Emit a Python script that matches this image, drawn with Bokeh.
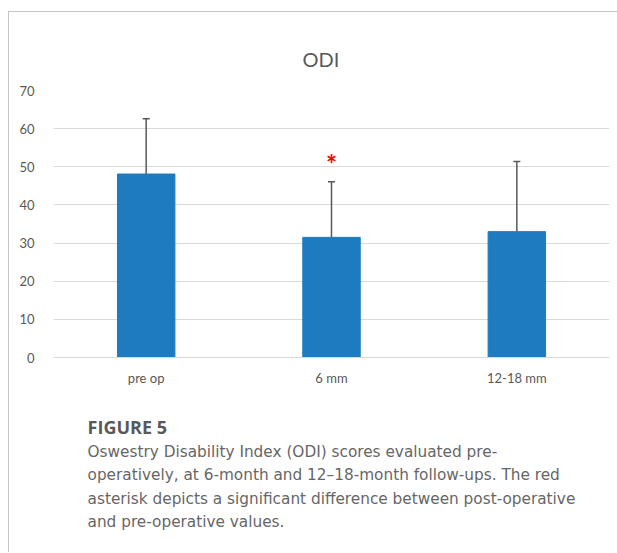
from bokeh.plotting import figure
from bokeh.layouts import column
from bokeh.models import ColumnDataSource, Whisker, TeeHead, FactorRange, Range1d
from bokeh.core.properties import value
from bokeh.embed import file_html
from bokeh.resources import INLINE

# ---- data ----
categories = ["pre op", "6 mm", "12-18 mm"]
means = [48.1, 31.5, 33.0]
sds = [14.5, 14.6, 18.4]
significant = [False, True, False]
y_ticks = [0, 10, 20, 30, 40, 50, 60, 70]
title_text = "ODI"
caption_head = "FIGURE 5"
caption_lines = [
    "Oswestry Disability Index (ODI) scores evaluated pre-",
    "operatively, at 6-month and 12\u201318-month follow-ups. The red",
    "asterisk depicts a significant difference between post-operative",
    "and pre-operative values.",
]

upper = [m + s for m, s in zip(means, sds)]
lower = [m - s for m, s in zip(means, sds)]
src = ColumnDataSource(dict(cat=categories, mean=means, upper=upper, lower=lower))

star_cats = [c for c, s in zip(categories, significant) if s]
star_y = [u + 4.5 for u, s in zip(upper, significant) if s]
star_src = ColumnDataSource(dict(cat=star_cats, y=star_y, t=["*"] * len(star_cats)))

CHART_FONT = "Lato"
CAP_FONT = "DejaVu Sans"
HEAD_FONT = "Open Sans"
BORDER = "1px solid #c4c4c4"

FRAME_W, FRAME_H = 555, 266
Y_MAX = 70

p = figure(
    x_range=FactorRange(*categories, range_padding=0),
    y_range=(0, Y_MAX),
    frame_width=FRAME_W, frame_height=FRAME_H,
    min_border_left=44, min_border_right=9, min_border_top=78, min_border_bottom=40,
    output_backend="svg", toolbar_location=None,
)
p.styles = {"border-top": BORDER, "border-left": BORDER}
p.outline_line_color = None
p.background_fill_color = "white"
p.border_fill_color = "white"

p.vbar(x="cat", top="mean", width=0.31, source=src, fill_color="#1f7bbf", line_color="#1f7bbf")

w = Whisker(base="cat", upper="upper", lower="lower", source=src,
            line_color="#595959", line_width=1.5)
w.upper_head = TeeHead(size=7, line_color="#595959", line_width=1.5)
w.lower_head = TeeHead(size=7, line_color="#595959", line_width=1.5)
p.add_layout(w)

p.text(x="cat", y="y", text="t", source=star_src, text_color="#ff0000",
       text_font=value(CHART_FONT), text_font_size="26px", text_font_style="bold",
       text_align="center", text_baseline="middle")

# title
p.title.text = title_text
p.title.align = "left"
p.title.offset = 249
p.title.text_font = CHART_FONT
p.title.text_font_size = "20px"
p.title.text_font_style = "normal"
p.title.text_color = "#595959"
p.title.standoff = 39

# axes
p.yaxis.ticker = y_ticks
p.yaxis.axis_line_color = None
p.yaxis.major_tick_line_color = None
p.yaxis.minor_tick_line_color = None
p.yaxis.major_label_text_font = CHART_FONT
p.yaxis.major_label_text_font_size = "13px"
p.yaxis.major_label_text_color = "#595959"
p.yaxis.major_label_standoff = 13

p.xaxis.axis_line_color = "#d9d9d9"
p.xaxis.major_tick_line_color = None
p.xaxis.minor_tick_line_color = None
p.xaxis.major_label_text_font = CHART_FONT
p.xaxis.major_label_text_font_size = "13px"
p.xaxis.major_label_text_color = "#595959"
p.xaxis.major_label_standoff = 6

p.xgrid.grid_line_color = None
p.ygrid.grid_line_color = "#d9d9d9"
p.ygrid.grid_line_width = 1

# ---- caption panel (coordinates in pixels from its top-left) ----
CAP_W, CAP_H = 608, 156
cap = figure(
    x_range=Range1d(0, CAP_W), y_range=Range1d(CAP_H, 0),
    frame_width=CAP_W, frame_height=CAP_H,
    min_border=0, output_backend="svg", toolbar_location=None,
)
cap.styles = {"border-left": BORDER}
cap.axis.visible = False
cap.grid.visible = False
cap.outline_line_color = None
cap.background_fill_color = "white"
cap.border_fill_color = "white"

text_left = 34
head_y = 30
first_line_y = 55
line_step = 23.5

cap.text(x=[text_left], y=[head_y], text=[caption_head],
         text_font=value(HEAD_FONT), text_font_size="18px", text_font_style="bold",
         text_color="#595959", text_baseline="middle", text_align="left")
cap.text(x=[text_left] * len(caption_lines),
         y=[first_line_y + line_step * i for i in range(len(caption_lines))],
         text=caption_lines,
         text_font=value(CAP_FONT), text_font_size="15.3px",
         text_color="#666666", text_baseline="middle", text_align="left")

layout = column(p, cap, spacing=0, margin=(11, 0, 0, 8))

open("out.html", "w").write(file_html(layout, INLINE))
